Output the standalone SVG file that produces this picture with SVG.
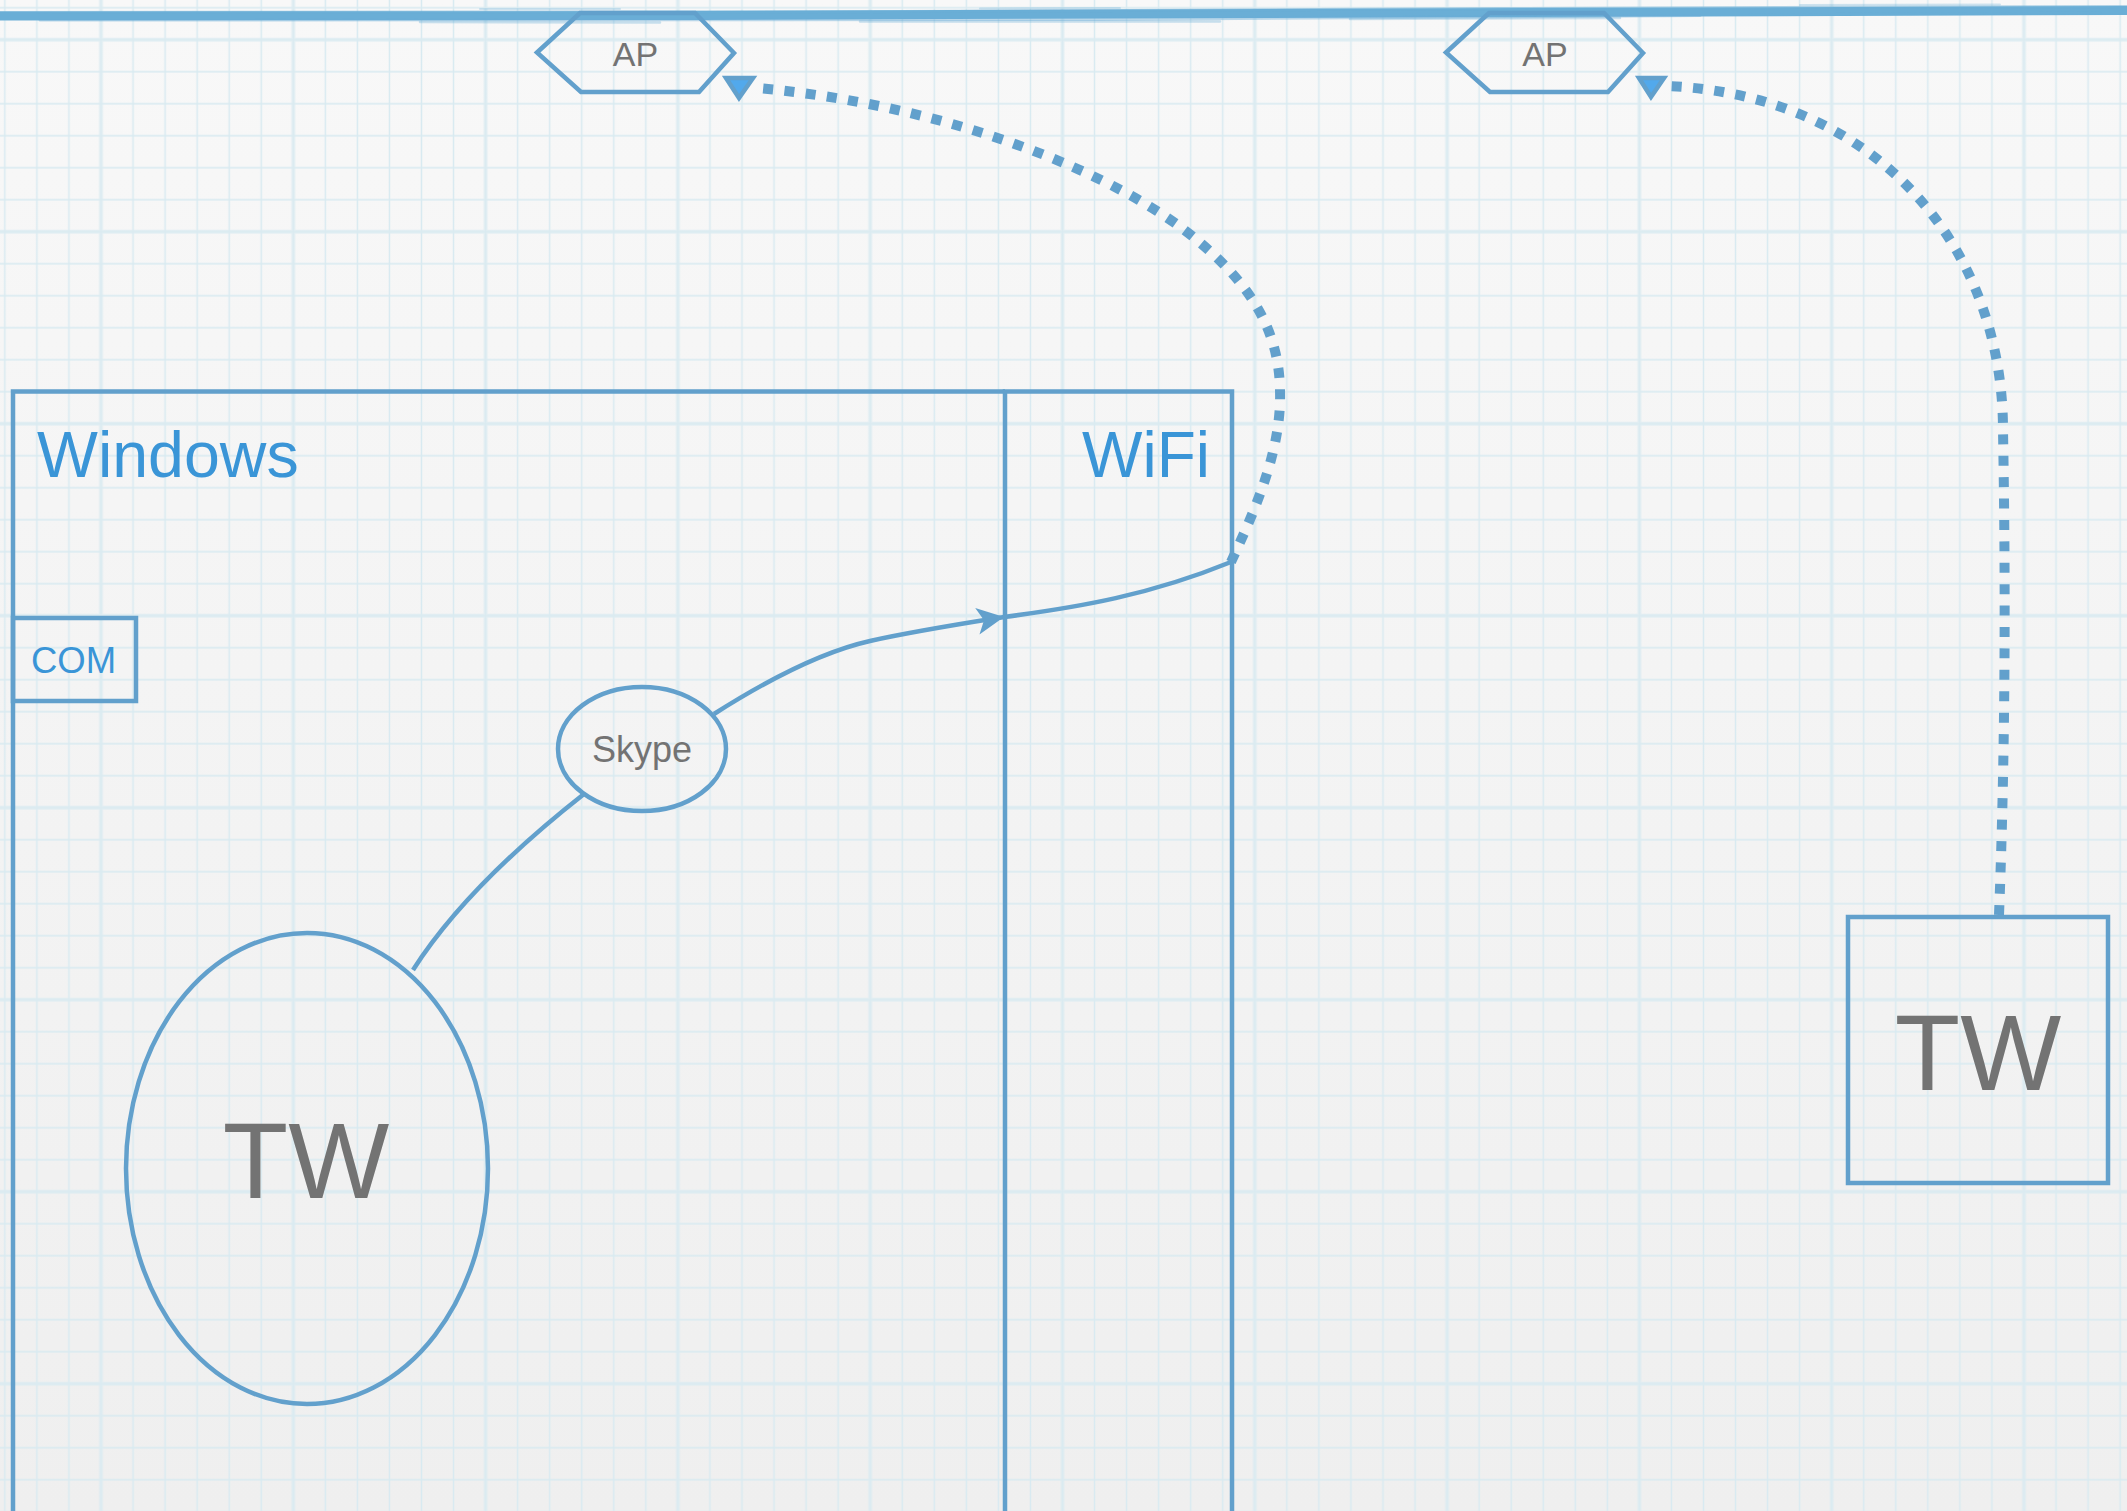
<svg xmlns="http://www.w3.org/2000/svg" width="2127" height="1511" viewBox="0 0 2127 1511">
<defs>
<linearGradient id="bg" x1="0" y1="0" x2="0" y2="1">
<stop offset="0" stop-color="#f8f8f8"/>
<stop offset="1" stop-color="#efefef"/>
</linearGradient>
<pattern id="gridMinor" x="-11.175" y="-8.3" width="32.05" height="32" patternUnits="userSpaceOnUse">
<path d="M16.025,0 V32 M0,16 H32.05" stroke="#d8eaf1" stroke-width="1.5" fill="none"/>
</pattern>
<pattern id="gridMajor" x="4.85" y="-56.3" width="192.3" height="192" patternUnits="userSpaceOnUse">
<path d="M96.15,0 V192 M0,96 H192.3" stroke="#dbebf1" stroke-width="4" fill="none"/>
</pattern>
<marker id="mid" viewBox="0 0 10 10" refX="10" refY="5" markerWidth="27" markerHeight="27" markerUnits="userSpaceOnUse" orient="auto">
<path d="M0,0 L10,5 L0,10 L2.5,5 Z" fill="#62a0cc"/>
</marker>
<style>
.shape{fill:none;stroke:#62a0cc;stroke-width:4.5}
.conn{fill:none;stroke:#62a0cc;stroke-width:4.5}
.dots{fill:none;stroke:#62a0cc;stroke-width:10;stroke-dasharray:10 11.4}
.head{fill:#52a9ec;stroke:#62a0cc;stroke-width:4.5;stroke-linejoin:miter}
.blue{font-family:"Liberation Sans",Arial,Helvetica,sans-serif;fill:#3a95d7}
.grey{font-family:"Liberation Sans",Arial,Helvetica,sans-serif;fill:#737373}
</style>
</defs>
<rect width="2127" height="1511" fill="url(#bg)"/>
<rect width="2127" height="1511" fill="url(#gridMinor)"/>
<rect width="2127" height="1511" fill="url(#gridMajor)" opacity="0.7"/>
<g id="top-line" fill="none" stroke="#6aaed6" stroke-linecap="round">
<path d="M0,16 L700,15.5 L1400,13 L2127,10.5" stroke-width="9"/>
<path d="M0,12.5 L900,11.5 L1500,8.5 L2127,6.5" stroke-width="3" opacity="0.5"/>
<path d="M40,20 L1100,19.5 L1700,15.5" stroke-width="3" opacity="0.45"/>
<path d="M420,22 L660,22.5 M860,21.5 L1220,21.5 M1350,19 L1620,18 M1750,14.5 L2100,13" stroke-width="2.5" opacity="0.35"/>
<path d="M480,9 L620,9 M980,8.5 L1120,8 M1800,5 L2000,4.5" stroke-width="2" opacity="0.3"/>
</g>
<g id="windows">
<path class="shape" d="M13,1520 V391.5 H1005"/>
<text class="blue" x="37" y="477" font-size="64.5">Windows</text>
</g>
<g id="wifi">
<path class="shape" d="M1005,1520 V391.5 H1232 V1520"/>
<text class="blue" x="1210" y="477" font-size="64" text-anchor="end">WiFi</text>
</g>
<g id="com">
<rect class="shape" x="13" y="618" width="123" height="83"/>
<text class="blue" x="31" y="673" font-size="36.5">COM</text>
</g>
<g id="skype">
<ellipse class="shape" cx="642" cy="749" rx="84" ry="62"/>
<text class="grey" x="642" y="762" font-size="36" text-anchor="middle">Skype</text>
</g>
<g id="tw-ellipse">
<ellipse class="shape" cx="307" cy="1168.5" rx="181" ry="235.5"/>
<text class="grey" x="306" y="1198" font-size="107" text-anchor="middle">TW</text>
</g>
<g id="tw-box">
<rect class="shape" x="1848" y="917" width="260" height="266"/>
<text class="grey" x="1978" y="1090" font-size="107" text-anchor="middle">TW</text>
</g>
<g id="ap-1">
<polygon class="shape" points="537,52.5 580,13 695,13 734,53 699,92 581,92"/>
<text class="grey" x="635.5" y="66" font-size="34" text-anchor="middle">AP</text>
</g>
<g id="ap-2">
<polygon class="shape" points="1446,52.5 1489,13 1604,13 1643,53 1608,92 1490,92"/>
<text class="grey" x="1545" y="66" font-size="34" text-anchor="middle">AP</text>
</g>
<g id="connectors">
<path class="conn" d="M413,970 C445,920 500,860 584,794"/>
<path class="conn" d="M714,714 C780,672 830,650 870,641 C915,631 960,624 1004,617" marker-end="url(#mid)"/>
<path class="conn" d="M1004,617 C1080,607 1150,595 1231,562"/>
<path class="dots" d="M1231,562 C1255,510 1282,450 1280,390 C1279,325 1245,280 1197,240 C1120,175 950,105 757,88"/>
<polygon class="head" points="726,78 753,78 739,98"/>
<path class="dots" d="M1999,915 C2005,760 2006,600 2003,430 C2003,250 1880,95 1667,86"/>
<polygon class="head" points="1639,78 1664,78 1651,97"/>
</g>
</svg>
